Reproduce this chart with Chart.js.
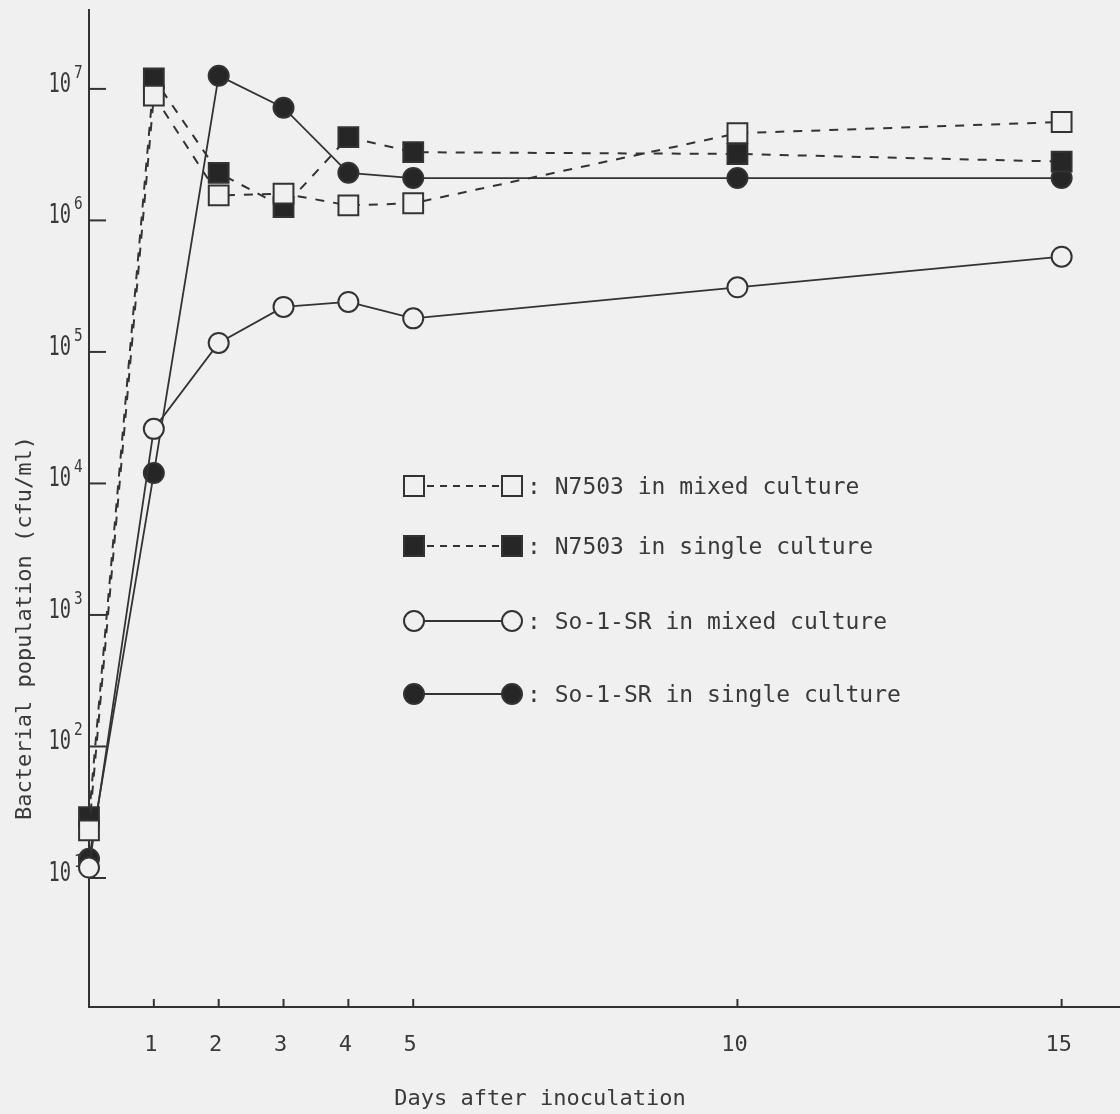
<!DOCTYPE html>
<html lang="en">
<head>
  <meta charset="UTF-8" />
  <title>Bacterial population after inoculation</title>
  <script src="https://cdn.jsdelivr.net/npm/chart.js"></script>
  <style>
    body { margin: 0; background: #f0f0f0; }
    canvas { display: block; }
  </style>
</head>
<body>
  <canvas id="popChart" width="1120" height="1114"></canvas>

  <script>
    // days after inoculation
    const days = [0, 1, 2, 3, 4, 5, 10, 15];

    // cfu/ml
    const n7503Mixed  = [23, 8.9e6, 1.55e6, 1.6e6, 1.3e6, 1.35e6, 4.6e6, 5.6e6];
    const n7503Single = [29, 1.2e7, 2.3e6, 1.26e6, 4.3e6, 3.3e6, 3.2e6, 2.8e6];
    const so1Mixed    = [12, 2.6e4, 1.17e5, 2.2e5, 2.4e5, 1.8e5, 3.1e5, 5.3e5];
    const so1Single   = [14, 1.2e4, 1.26e7, 7.2e6, 2.3e6, 2.1e6, 2.1e6, 2.1e6];

    const xTicks = [1, 2, 3, 4, 5, 10, 15];
    const yTickExp = [1, 2, 3, 4, 5, 6, 7];

    const legendLabels = [
      'N7503 in mixed culture',
      'N7503 in single culture',
      'So-1-SR in mixed culture',
      'So-1-SR in single culture'
    ];

    const PAPER = '#f0f0f0';
    const INK = '#333333';
    const DARK = '#262626';
    const MONO = '"DejaVu Sans Mono", monospace';

    const pts = arr => days.map((d, i) => ({ x: d, y: arr[i] }));

    function series(label, values, style, filled, dashed) {
      return {
        label,
        data: pts(values),
        borderColor: INK,
        borderWidth: dashed ? 2 : 1.8,
        borderDash: dashed ? [9, 9] : [],
        tension: 0,
        fill: false,
        clip: false,
        pointStyle: style,
        pointRadius: style === 'rect' ? 14 : 10,
        pointHoverRadius: style === 'rect' ? 14 : 10,
        pointBorderWidth: 2,
        pointBorderColor: INK,
        pointBackgroundColor: filled ? DARK : PAPER
      };
    }

    // legend sample marker
    function marker(ctx, style, filled, x, y) {
      ctx.save();
      ctx.setLineDash([]);
      ctx.lineWidth = 2;
      ctx.strokeStyle = INK;
      ctx.fillStyle = filled ? DARK : PAPER;
      ctx.beginPath();
      if (style === 'rect') ctx.rect(x - 10, y - 10, 20, 20);
      else ctx.arc(x, y, 10, 0, Math.PI * 2);
      ctx.fill();
      ctx.stroke();
      ctx.restore();
    }

    const paper = {
      id: 'paper',
      beforeDraw(chart) {
        const ctx = chart.ctx;
        ctx.save();
        ctx.fillStyle = PAPER;
        ctx.fillRect(0, 0, chart.width, chart.height);
        ctx.restore();
      },
      beforeDatasetsDraw(chart) {
        const ctx = chart.ctx;
        const xs = chart.scales.x, ys = chart.scales.y;
        const left = chart.chartArea.left, bottom = chart.chartArea.bottom;
        ctx.save();
        ctx.strokeStyle = INK;
        ctx.lineWidth = 2;
        ctx.fillStyle = '#3a3a3a';

        // y ticks (inward) and 10^n labels
        yTickExp.forEach(e => {
          const y = ys.getPixelForValue(Math.pow(10, e));
          ctx.beginPath();
          ctx.moveTo(left, y);
          ctx.lineTo(left + 17, y);
          ctx.stroke();

          ctx.save();
          ctx.translate(71, y + 3);
          ctx.scale(0.72, 1);
          ctx.font = '26px ' + MONO;
          ctx.textAlign = 'right';
          ctx.fillText('10', 0, 0);
          ctx.restore();

          ctx.save();
          ctx.translate(74, y - 11);
          ctx.scale(0.8, 1);
          ctx.font = '18px ' + MONO;
          ctx.textAlign = 'left';
          ctx.fillText(String(e), 0, 0);
          ctx.restore();
        });

        // x ticks (inward) and labels
        ctx.font = '22px ' + MONO;
        ctx.textAlign = 'center';
        xTicks.forEach(d => {
          const x = xs.getPixelForValue(d);
          ctx.beginPath();
          ctx.moveTo(x, bottom);
          ctx.lineTo(x, bottom - 8);
          ctx.stroke();
          ctx.fillText(String(d), x - 3, 1051);
        });

        // axis titles
        ctx.fillText('Days after inoculation', 540, 1105);
        ctx.save();
        ctx.translate(31, 628);
        ctx.rotate(-Math.PI / 2);
        ctx.fillText('Bacterial population (cfu/ml)', 0, 0);
        ctx.restore();

        ctx.restore();
      },
      afterDraw(chart) {
        const ctx = chart.ctx;
        const rows = [486, 546, 621, 694];
        const styles = [['rect', false, true], ['rect', true, true], ['circle', false, false], ['circle', true, false]];
        ctx.save();
        rows.forEach((y, i) => {
          const [style, filled, dashed] = styles[i];
          ctx.strokeStyle = INK;
          ctx.lineWidth = 1.8;
          ctx.setLineDash(dashed ? [7, 6] : []);
          ctx.beginPath();
          ctx.moveTo(414, y);
          ctx.lineTo(512, y);
          ctx.stroke();
          marker(ctx, style, filled, 414, y);
          marker(ctx, style, filled, 512, y);
          ctx.fillStyle = '#3a3a3a';
          ctx.font = '23px ' + MONO;
          ctx.textAlign = 'left';
          ctx.fillText(': ' + legendLabels[i], 527, y + 8);
        });
        ctx.restore();
      }
    };

    new Chart(document.getElementById('popChart').getContext('2d'), {
      type: 'line',
      data: {
        datasets: [
          series(legendLabels[0], n7503Mixed, 'rect', false, true),
          series(legendLabels[1], n7503Single, 'rect', true, true),
          series(legendLabels[2], so1Mixed, 'circle', false, false),
          series(legendLabels[3], so1Single, 'circle', true, false)
        ]
      },
      options: {
        responsive: false,
        animation: false,
        layout: { autoPadding: false, padding: { left: 89, top: 10, right: 0, bottom: 107 } },
        plugins: {
          legend: { display: false },
          tooltip: { enabled: false }
        },
        scales: {
          x: {
            type: 'linear',
            min: 0,
            max: 15.9,
            grid: { display: false, drawTicks: false },
            ticks: { display: false },
            border: { display: true, color: INK, width: 2 }
          },
          y: {
            type: 'logarithmic',
            min: 1.045,
            max: 3.98e7,
            grid: { display: false, drawTicks: false },
            ticks: { display: false },
            border: { display: true, color: INK, width: 2 }
          }
        }
      },
      plugins: [paper]
    });
  </script>
</body>
</html>
